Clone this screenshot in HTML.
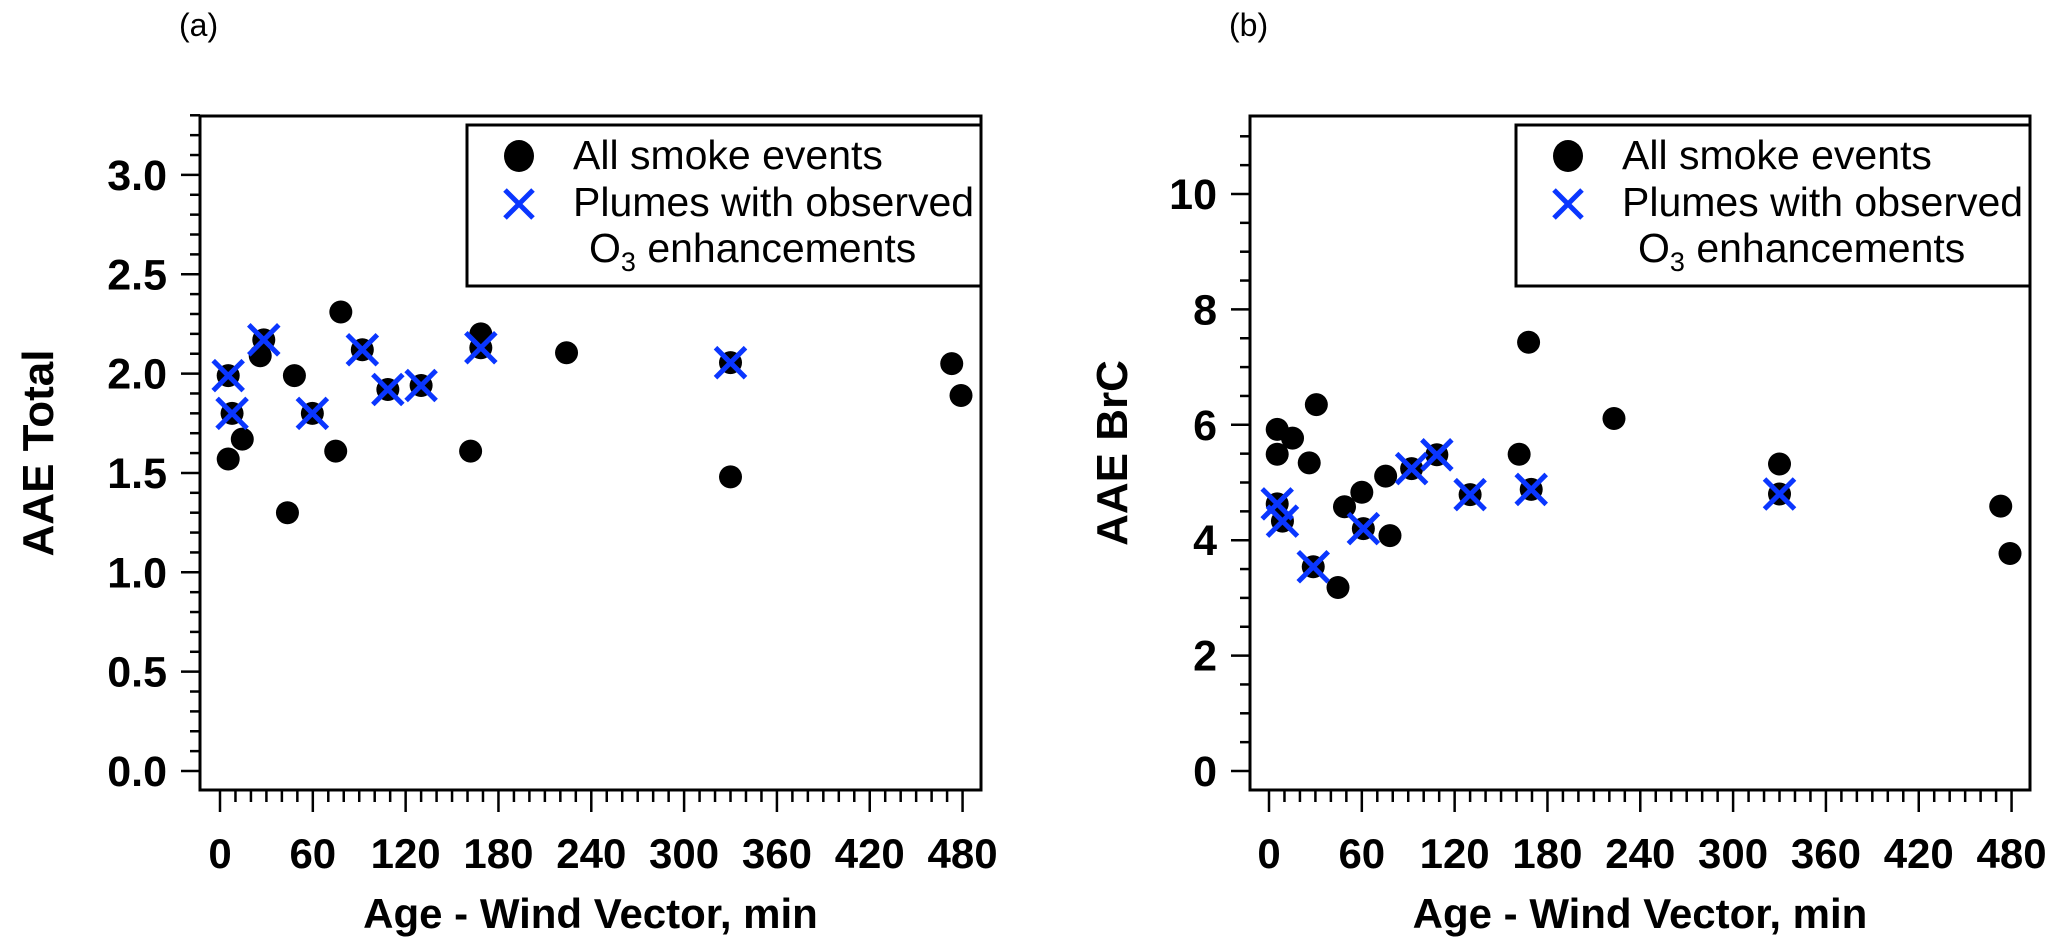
<!DOCTYPE html>
<html><head><meta charset="utf-8"><style>
html,body{margin:0;padding:0;background:#fff;}
svg{display:block;font-family:"Liberation Sans",Arial,sans-serif;}
</style></head><body>
<svg id="chart" width="2067" height="951" viewBox="0 0 2067 951" xmlns="http://www.w3.org/2000/svg"></svg>
<script>
// Panel (a) data: AAE Total
const ageAllA = [5.3, 14.4, 7.8, 5.3, 26, 28.3, 48.1, 43.6, 59.7, 74.8, 78.1, 92, 108.5, 130, 162, 168.6, 168.6, 224, 330, 330, 473, 479];
const aaeAllA = [1.57, 1.67, 1.80, 1.99, 2.09, 2.17, 1.99, 1.30, 1.80, 1.61, 2.31, 2.12, 1.92, 1.94, 1.61, 2.20, 2.13, 2.105, 2.055, 1.48, 2.05, 1.89];
const ageO3A = [5.3, 7.8, 28.3, 59.7, 92, 108.5, 130, 168.6, 330];
const aaeO3A = [1.99, 1.80, 2.17, 1.80, 2.12, 1.92, 1.94, 2.13, 2.055];
// Panel (b) data: AAE BrC
const ageAllB = [5.3, 15.2, 5.3, 26, 30.6, 5.3, 8.7, 28.6, 44.6, 48.8, 60, 61, 75.4, 78.2, 92.2, 108.5, 130, 161.7, 167.8, 169.5, 223, 330, 330, 473, 479];
const aaeAllB = [5.92, 5.77, 5.49, 5.34, 6.35, 4.63, 4.33, 3.54, 3.18, 4.58, 4.83, 4.20, 5.11, 4.08, 5.24, 5.48, 4.79, 5.49, 7.43, 4.88, 6.11, 5.32, 4.80, 4.59, 3.77];
const ageO3B = [5.3, 8.7, 28.6, 61, 92.2, 108.5, 130, 169.5, 330];
const aaeO3B = [4.63, 4.33, 3.54, 4.20, 5.24, 5.48, 4.79, 4.88, 4.80];
// Tick labels
const xTicks = [0, 60, 120, 180, 240, 300, 360, 420, 480];
const yTicksA = ["0.0", "0.5", "1.0", "1.5", "2.0", "2.5", "3.0"];
const yTicksB = ["0", "2", "4", "6", "8", "10"];

const NS = "http://www.w3.org/2000/svg";
const svg = document.getElementById("chart");
function mk(tag, attrs, parent) {
  const e = document.createElementNS(NS, tag);
  for (const k in attrs) e.setAttribute(k, attrs[k]);
  (parent || svg).appendChild(e);
  return e;
}
const BLUE = "#0a36ff";

function panel(cfg) {
  const g = mk("g", {});
  
  
  const L = cfg.left, R = cfg.right, T = 116, B = 790;
  const x0 = cfg.x0, pxPerMin = 1.547;
  const sx = v => x0 + v * pxPerMin;
  const sy = v => 771 - v * cfg.pxPerY;

  const fr = mk("rect", {x: L, y: T, width: R - L, height: B - T, fill: "none", stroke: "#000", "stroke-width": 3}, g);
  
  

  for (let m = 0; m <= 480; m += 10) {
    const major = m % 60 === 0;
    const t = mk("line", {x1: sx(m), x2: sx(m), y1: B, y2: B + (major ? 22 : 12), stroke: "#000", "stroke-width": 2.5}, g);
    
    
  }
  xTicks.forEach(v => {
    const t = mk("text", {x: sx(v), y: 868, "text-anchor": "middle", "font-size": 42, "font-weight": "bold"}, g);
    t.textContent = v;
    
    
  });
  for (let i = 0; i <= cfg.yMinorCount; i++) {
    const v = i * cfg.yMinorStep;
    const major = Math.abs(v / cfg.yMajorStep - Math.round(v / cfg.yMajorStep)) < 1e-6 && v <= cfg.yMaxLabel + 1e-6;
    const t = mk("line", {x1: L - (major ? 19 : 10), x2: L, y1: sy(v), y2: sy(v), stroke: "#000", "stroke-width": 2.5}, g);
    
    
  }
  cfg.yLabels.forEach(s => {
    const t = mk("text", {x: L - 33, y: sy(parseFloat(s)) + 15, "text-anchor": "end", "font-size": 43, "font-weight": "bold"}, g);
    t.textContent = s;
    
    
  });
  const xt = mk("text", {x: (L + R) / 2, y: 928, "text-anchor": "middle", "font-size": 42, "font-weight": "bold"}, g);
  xt.textContent = "Age - Wind Vector, min";
  
  
  const yt = mk("text", {x: 0, y: 0, "text-anchor": "middle", "font-size": 44, "font-weight": "bold", transform: `translate(${cfg.yTitleX},453) rotate(-90)`}, g);
  yt.textContent = cfg.yTitle;
  
  
  const pl = mk("text", {x: L - 21, y: 36, "font-size": 32}, g);
  pl.textContent = cfg.label;
  
  

  const lg = mk("g", {}, g);
  
  
  const lx = cfg.legendX;
  mk("rect", {x: lx, y: 125, width: R - lx, height: 161, fill: "#fff", stroke: "#000", "stroke-width": 3}, lg);
  const lc = mk("ellipse", {cx: lx + 52, cy: 156, rx: 15, ry: 16, fill: "#000"}, lg);
  
  
  const cx = lx + 52, cy = 204, h = 14;
  const lxp = mk("path", {d: `M${cx - h},${cy - h}L${cx + h},${cy + h}M${cx - h},${cy + h}L${cx + h},${cy - h}`, stroke: BLUE, "stroke-width": 5, fill: "none"}, lg);
  
  
  const t1 = mk("text", {x: lx + 106, y: 169, "font-size": 41}, lg);
  t1.textContent = "All smoke events";
  
  
  const t2 = mk("text", {x: lx + 106, y: 216, "font-size": 41}, lg);
  t2.textContent = "Plumes with observed";
  
  
  const t3 = mk("text", {x: lx + 122, y: 262, "font-size": 41}, lg);
  t3.innerHTML = 'O<tspan font-size="27" dy="9">3</tspan><tspan dy="-9"> enhancements</tspan>';
  
  

  cfg.allX.forEach((v, i) => {
    const c = mk("ellipse", {cx: sx(v), cy: sy(cfg.allY[i]), rx: 11.5, ry: 11.5, fill: "#000"}, g);
    
    
  });
  cfg.o3X.forEach((v, i) => {
    const px = sx(v), py = sy(cfg.o3Y[i]), s = 15;
    const p = mk("path", {d: `M${px - s},${py - s}L${px + s},${py + s}M${px - s},${py + s}L${px + s},${py - s}`, stroke: BLUE, "stroke-width": 5, fill: "none"}, g);
    
    
  });
}

panel({name: "panel-a", left: 200, right: 981, x0: 220, pxPerY: 198.7,
  yMinorStep: 0.1, yMinorCount: 33, yMajorStep: 0.5, yMaxLabel: 3.0, yLabels: yTicksA,
  yTitle: "AAE Total", yTitleX: 53, label: "(a)", legendX: 467,
  allX: ageAllA, allY: aaeAllA, o3X: ageO3A, o3Y: aaeO3A});
panel({name: "panel-b", left: 1250, right: 2030, x0: 1269, pxPerY: 57.7,
  yMinorStep: 0.5, yMinorCount: 22, yMajorStep: 2, yMaxLabel: 10, yLabels: yTicksB,
  yTitle: "AAE BrC", yTitleX: 1127, label: "(b)", legendX: 1516,
  allX: ageAllB, allY: aaeAllB, o3X: ageO3B, o3Y: aaeO3B});
</script>
</body></html>
